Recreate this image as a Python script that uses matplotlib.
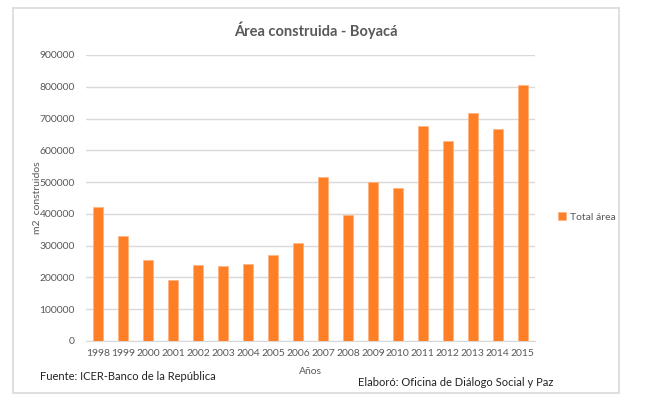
import matplotlib
matplotlib.use('Agg')
import matplotlib.pyplot as plt
from matplotlib.patches import Rectangle

years = ['1998', '1999', '2000', '2001', '2002', '2003', '2004', '2005', '2006',
         '2007', '2008', '2009', '2010', '2011', '2012', '2013', '2014', '2015']
area = [421000, 330000, 256000, 192000, 240000, 237000, 242000, 272000, 309000,
        515000, 395000, 501000, 482000, 678000, 628000, 719000, 668000, 807000]
yticks = [0, 100000, 200000, 300000, 400000, 500000, 600000, 700000, 800000, 900000]

W, H = 645, 404
orange = '#FF7F27'
txt = '#595959'
plt.rcParams['font.family'] = ['Lato', 'DejaVu Sans']

fig = plt.figure(figsize=(W/100, H/100), dpi=100)
fig.patch.set_facecolor('white')

# chart frame
fig.patches.append(Rectangle((13/W, 1-393/H), (619-13)/W, (393-8)/H,
                             transform=fig.transFigure, fill=False,
                             edgecolor='#D9D9D9', linewidth=1.2))

ax = fig.add_axes([86/W, 1-341/H, (535-86)/W, (341-55)/H])
x = range(len(years))
ax.bar(x, area, width=0.4, color=orange, edgecolor='#FFB27F', linewidth=0.5,
       label='Total área', zorder=3)
ax.set_xlim(-0.5, len(years)-0.5)
ax.set_ylim(0, 900000)
ax.set_yticks(yticks)
ax.set_yticklabels([str(v) for v in yticks])
ax.set_xticks(list(x))
ax.set_xticklabels(years)
ax.tick_params(axis='both', length=0, labelsize=7.5, labelcolor=txt)
ax.tick_params(axis='y', pad=8)
ax.tick_params(axis='x', pad=6)
ax.grid(axis='y', color='#D9D9D9', linewidth=1, zorder=0)
for s in ['top', 'right', 'left']:
    ax.spines[s].set_visible(False)
ax.spines['bottom'].set_color('#D9D9D9')

fig.text(316/W, 1-30/H, 'Área construida - Boyacá', ha='center', va='center',
         fontsize=10.5, fontweight='bold', color=txt)
fig.text(37/W, 1-198/H, 'm2  construidos', rotation=90, ha='center', va='center',
         fontsize=7.5, color=txt)
fig.text(310/W, 1-372/H, 'Años', ha='center', va='center', fontsize=7.5, color=txt)
fig.text(40/W, 1-376/H, 'Fuente: ICER-Banco de la República', ha='left', va='center',
         fontsize=8, color='#222222')
fig.text(358/W, 1-382/H, 'Elaboró: Oficina de Diálogo Social y Paz', ha='left',
         va='center', fontsize=8, color='#222222')

ax.legend(loc='center left', bbox_to_anchor=(553/W, 1-217/H),
          bbox_transform=fig.transFigure, frameon=False, fontsize=7.5,
          handlelength=0.7, handleheight=0.7, handletextpad=0.4,
          labelcolor=txt, borderpad=0)

fig.savefig('out.png', dpi=100)
